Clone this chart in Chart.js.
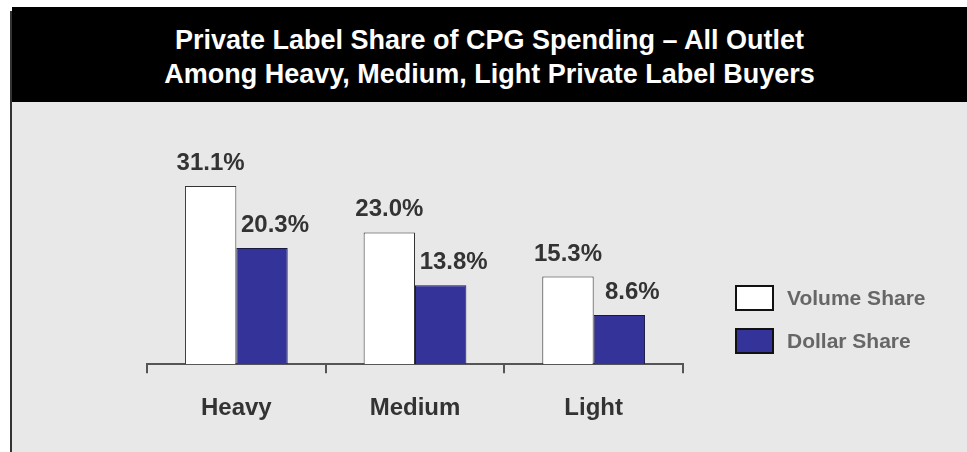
<!DOCTYPE html>
<html>
<head>
<meta charset="utf-8">
<script src="https://cdn.jsdelivr.net/npm/chart.js@4"></script>
<style>
  body { margin: 0; background: #fff; font-family: "Liberation Sans", Arial, sans-serif; }
  #frame { position: absolute; left: 10px; top: 11px; width: 955px; height: 441px;
           border-left: 2px solid #333; border-right: 2px solid #000; background: #e8e8e8; }
  #header { position: absolute; left: 12px; top: 7px; width: 955px; height: 95px; background: #000;
            color: #fff; font-weight: bold; font-size: 27px; line-height: 34px; text-align: center;
            box-sizing: border-box; padding-top: 16px; }
  #chart { position: absolute; left: 0; top: 0; }
</style>
</head>
<body>
<div id="frame"></div>
<div id="header">Private Label Share of CPG Spending – All Outlet<br>Among Heavy, Medium, Light Private Label Buyers</div>
<canvas id="chart" width="967" height="452"></canvas>
<script>
const categories = ['Heavy', 'Medium', 'Light'];
const volumeShare = [31.1, 23.0, 15.3];
const dollarShare = [20.3, 13.8, 8.6];
const seriesNames = ['Volume Share', 'Dollar Share'];

const fontFamily = '"Liberation Sans", Arial, sans-serif';

// percentage labels over each bar; the dollar ones sit a bit to the right
const valueLabels = {
  id: 'valueLabels',
  afterDatasetsDraw(chart) {
    const ctx = chart.ctx;
    ctx.save();
    ctx.font = 'bold 24px ' + fontFamily;
    ctx.fillStyle = '#333';
    ctx.textAlign = 'center';
    ctx.textBaseline = 'alphabetic';
    chart.data.datasets.forEach((ds, i) => {
      const shift = i === 1 ? 13 : 0;
      chart.getDatasetMeta(i).data.forEach((bar, j) => {
        ctx.fillText(ds.data[j].toFixed(1) + '%', bar.x + shift, bar.y - 16);
      });
    });
    ctx.restore();
  }
};

// legend stacked to the right of the plot
const sideLegend = {
  id: 'sideLegend',
  afterDraw(chart) {
    const ctx = chart.ctx;
    const x = 736, top = 286, w = 37, h = 24, step = 43;
    ctx.save();
    ctx.font = 'bold 21px ' + fontFamily;
    ctx.textBaseline = 'middle';
    chart.data.datasets.forEach((ds, i) => {
      const y = top + i * step;
      ctx.fillStyle = ds.backgroundColor;
      ctx.fillRect(x, y, w, h);
      ctx.lineWidth = 2;
      ctx.strokeStyle = '#111';
      ctx.strokeRect(x, y, w, h);
      ctx.fillStyle = '#666';
      ctx.fillText(ds.label, x + w + 14, y + h / 2 + 1);
    });
    ctx.restore();
  }
};

new Chart(document.getElementById('chart'), {
  type: 'bar',
  data: {
    labels: categories,
    datasets: [
      { label: seriesNames[0], data: volumeShare, backgroundColor: '#ffffff', borderColor: '#333', borderWidth: 1 },
      { label: seriesNames[1], data: dollarShare, backgroundColor: '#333399', borderColor: '#1a1a40', borderWidth: 1 }
    ]
  },
  options: {
    responsive: false,
    animation: false,
    categoryPercentage: 0.575,
    barPercentage: 1,
    layout: { padding: { left: 147, right: 284, top: 135, bottom: 8 } },
    plugins: {
      legend: { display: false },
      tooltip: { enabled: false }
    },
    scales: {
      x: {
        grid: { display: true, offset: true, drawOnChartArea: false, drawTicks: true, tickLength: 9, color: '#555', lineWidth: 2 },
        border: { display: true, color: '#555', width: 2 },
        ticks: { color: '#333', padding: 21, font: { family: fontFamily, size: 24, weight: 'bold' } }
      },
      y: { display: false, min: 0, max: 40 }
    }
  },
  plugins: [valueLabels, sideLegend]
});
</script>
</body>
</html>
